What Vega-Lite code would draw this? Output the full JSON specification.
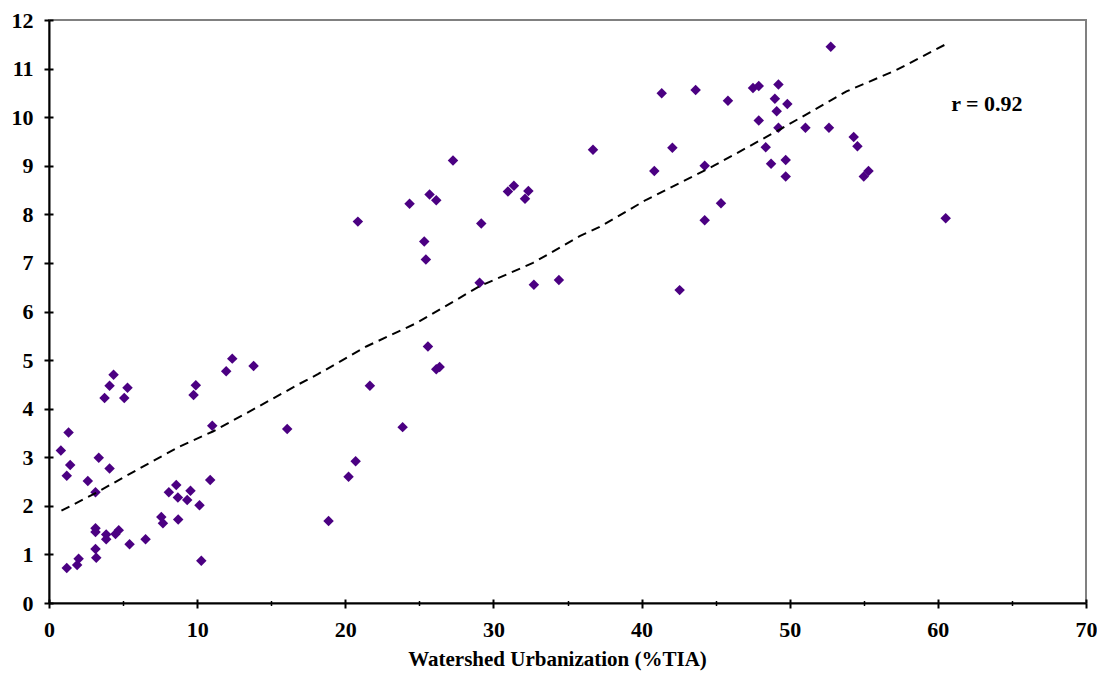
{
  "$schema": "https://vega.github.io/schema/vega-lite/v6.json",
  "width": 1037,
  "height": 583,
  "autosize": "none",
  "padding": {"left": 49, "top": 20, "right": 11, "bottom": 70},
  "background": "white",
  "config": {
    "view": {"stroke": "#808080", "strokeWidth": 2},
    "axis": {
      "grid": false,
      "labelFont": "Liberation Serif",
      "titleFont": "Liberation Serif",
      "labelFontWeight": "bold",
      "titleFontWeight": "bold",
      "labelFontSize": 22,
      "titleFontSize": 21,
      "labelColor": "black",
      "titleColor": "black",
      "domainColor": "black",
      "tickColor": "black",
      "domainWidth": 2,
      "tickWidth": 2
    }
  },
  "datasets": {
    "pts": [
      {"x": 0.8, "y": 3.14}, {"x": 1.32, "y": 3.51}, {"x": 1.2, "y": 2.62}, {"x": 1.43, "y": 2.84},
      {"x": 1.2, "y": 0.72}, {"x": 1.9, "y": 0.78}, {"x": 2.0, "y": 0.91}, {"x": 2.62, "y": 2.51},
      {"x": 3.14, "y": 2.28}, {"x": 3.36, "y": 2.99}, {"x": 4.09, "y": 2.77}, {"x": 3.75, "y": 4.22},
      {"x": 4.09, "y": 4.47}, {"x": 4.36, "y": 4.70}, {"x": 5.08, "y": 4.22}, {"x": 5.3, "y": 4.43},
      {"x": 3.14, "y": 1.54}, {"x": 3.14, "y": 1.46}, {"x": 3.14, "y": 1.11}, {"x": 3.19, "y": 0.93},
      {"x": 3.86, "y": 1.41}, {"x": 3.86, "y": 1.31}, {"x": 4.49, "y": 1.42}, {"x": 4.71, "y": 1.50},
      {"x": 5.44, "y": 1.21}, {"x": 6.52, "y": 1.31}, {"x": 7.58, "y": 1.77}, {"x": 7.69, "y": 1.64},
      {"x": 8.09, "y": 2.28}, {"x": 8.59, "y": 2.43}, {"x": 8.7, "y": 2.17}, {"x": 8.72, "y": 1.72},
      {"x": 9.33, "y": 2.12}, {"x": 9.55, "y": 2.31}, {"x": 9.76, "y": 4.28}, {"x": 9.91, "y": 4.48},
      {"x": 10.16, "y": 2.01}, {"x": 10.28, "y": 0.87}, {"x": 10.88, "y": 2.53}, {"x": 11.02, "y": 3.65},
      {"x": 11.96, "y": 4.77}, {"x": 12.37, "y": 5.03}, {"x": 13.81, "y": 4.88}, {"x": 16.08, "y": 3.58},
      {"x": 18.87, "y": 1.69}, {"x": 20.22, "y": 2.6}, {"x": 20.7, "y": 2.92}, {"x": 21.66, "y": 4.47},
      {"x": 23.87, "y": 3.62}, {"x": 20.85, "y": 7.85}, {"x": 24.34, "y": 8.22}, {"x": 25.69, "y": 8.41},
      {"x": 26.14, "y": 8.29}, {"x": 27.27, "y": 9.11}, {"x": 25.33, "y": 7.44}, {"x": 25.44, "y": 7.07},
      {"x": 29.18, "y": 7.81}, {"x": 30.98, "y": 8.47}, {"x": 31.38, "y": 8.59}, {"x": 32.36, "y": 8.48},
      {"x": 32.13, "y": 8.32}, {"x": 29.07, "y": 6.59}, {"x": 32.73, "y": 6.55}, {"x": 34.42, "y": 6.65},
      {"x": 25.58, "y": 5.28}, {"x": 26.14, "y": 4.81}, {"x": 26.37, "y": 4.86}, {"x": 36.72, "y": 9.33},
      {"x": 52.77, "y": 11.45}, {"x": 41.36, "y": 10.49}, {"x": 43.65, "y": 10.56}, {"x": 45.83, "y": 10.34},
      {"x": 47.52, "y": 10.6}, {"x": 47.91, "y": 10.64}, {"x": 49.24, "y": 10.67}, {"x": 49.0, "y": 10.38},
      {"x": 49.84, "y": 10.27}, {"x": 49.12, "y": 10.12}, {"x": 47.91, "y": 9.93}, {"x": 49.24, "y": 9.78},
      {"x": 51.06, "y": 9.78}, {"x": 52.65, "y": 9.78}, {"x": 54.32, "y": 9.59}, {"x": 54.57, "y": 9.40},
      {"x": 42.08, "y": 9.37}, {"x": 48.38, "y": 9.38}, {"x": 40.86, "y": 8.89}, {"x": 44.26, "y": 9.0},
      {"x": 48.74, "y": 9.04}, {"x": 49.73, "y": 9.12}, {"x": 49.73, "y": 8.78}, {"x": 55.0, "y": 8.78},
      {"x": 55.32, "y": 8.89}, {"x": 45.36, "y": 8.23}, {"x": 44.26, "y": 7.88}, {"x": 42.57, "y": 6.44},
      {"x": 60.53, "y": 7.92}
    ],
    "trend": [
      {"x": 0.84, "y": 1.9}, {"x": 3.19, "y": 2.27}, {"x": 6.11, "y": 2.77}, {"x": 8.81, "y": 3.22},
      {"x": 11.06, "y": 3.53}, {"x": 13.76, "y": 3.98}, {"x": 16.9, "y": 4.51}, {"x": 18.15, "y": 4.71},
      {"x": 21.42, "y": 5.28}, {"x": 24.79, "y": 5.76}, {"x": 29.07, "y": 6.52}, {"x": 32.67, "y": 7.0},
      {"x": 35.82, "y": 7.55}, {"x": 37.17, "y": 7.74}, {"x": 40.32, "y": 8.30}, {"x": 44.82, "y": 8.99},
      {"x": 49.3, "y": 9.74}, {"x": 53.83, "y": 10.53}, {"x": 57.2, "y": 10.97}, {"x": 60.53, "y": 11.5}
    ],
    "label": [{"x": 60.9, "y": 10.27, "t": "r = 0.92"}]
  },
  "layer": [
    {
      "data": {"name": "pts"},
      "mark": {"type": "point", "shape": "diamond", "filled": true, "size": 110, "color": "#4B0082", "opacity": 1},
      "encoding": {
        "x": {"field": "x", "type": "quantitative", "scale": {"domain": [0, 70], "nice": false},
          "axis": {"orient": "bottom", "values": [0, 10, 20, 30, 40, 50, 60, 70], "tickSize": 5, "labelPadding": 11,
            "labelFontSize": 22, "labelFlush": false, "labelOverlap": false,
            "title": "Watershed Urbanization (%TIA)", "titleX": 508, "titleY": 56, "titleBaseline": "middle", "titleAlign": "center", "titleAnchor": null}},
        "y": {"field": "y", "type": "quantitative", "scale": {"domain": [0, 12], "nice": false},
          "axis": {"orient": "left", "values": [0, 1, 2, 3, 4, 5, 6, 7, 8, 9, 10, 11, 12], "tickSize": 5, "labelPadding": 11, "labelFontSize": 22, "labelFlush": false, "labelOverlap": false, "title": null}}
      }
    },
    {
      "data": {"name": "trend"},
      "mark": {"type": "line", "color": "black", "strokeWidth": 2, "strokeDash": [9, 6]},
      "encoding": {
        "x": {"field": "x", "type": "quantitative", "scale": {"domain": [0, 70], "nice": false},
          "axis": {"orient": "bottom", "values": [0, 10, 20, 30, 40, 50, 60, 70], "offset": -4, "tickSize": 4, "labels": false, "domain": false, "title": null}},
        "y": {"field": "y", "type": "quantitative", "scale": {"domain": [0, 12], "nice": false},
          "axis": {"orient": "left", "values": [0, 1, 2, 3, 4, 5, 6, 7, 8, 9, 10, 11, 12], "offset": -4, "tickSize": 4, "labels": false, "domain": false, "title": null}}
      }
    },
    {
      "data": {"name": "label"},
      "mark": {"type": "text", "align": "left", "baseline": "middle", "font": "Liberation Serif", "fontWeight": "bold", "fontSize": 22, "color": "black"},
      "encoding": {
        "x": {"field": "x", "type": "quantitative", "scale": {"domain": [0, 70], "nice": false},
          "axis": {"orient": "bottom", "values": [5, 15, 25, 35, 45, 55, 65], "offset": -2.5, "tickSize": 5, "tickWidth": 1.5, "labels": false, "domain": false, "title": null}},
        "y": {"field": "y", "type": "quantitative", "scale": {"domain": [0, 12], "nice": false}, "axis": null},
        "text": {"field": "t"}
      }
    }
  ],
  "resolve": {"axis": {"x": "independent", "y": "independent"}}
}
